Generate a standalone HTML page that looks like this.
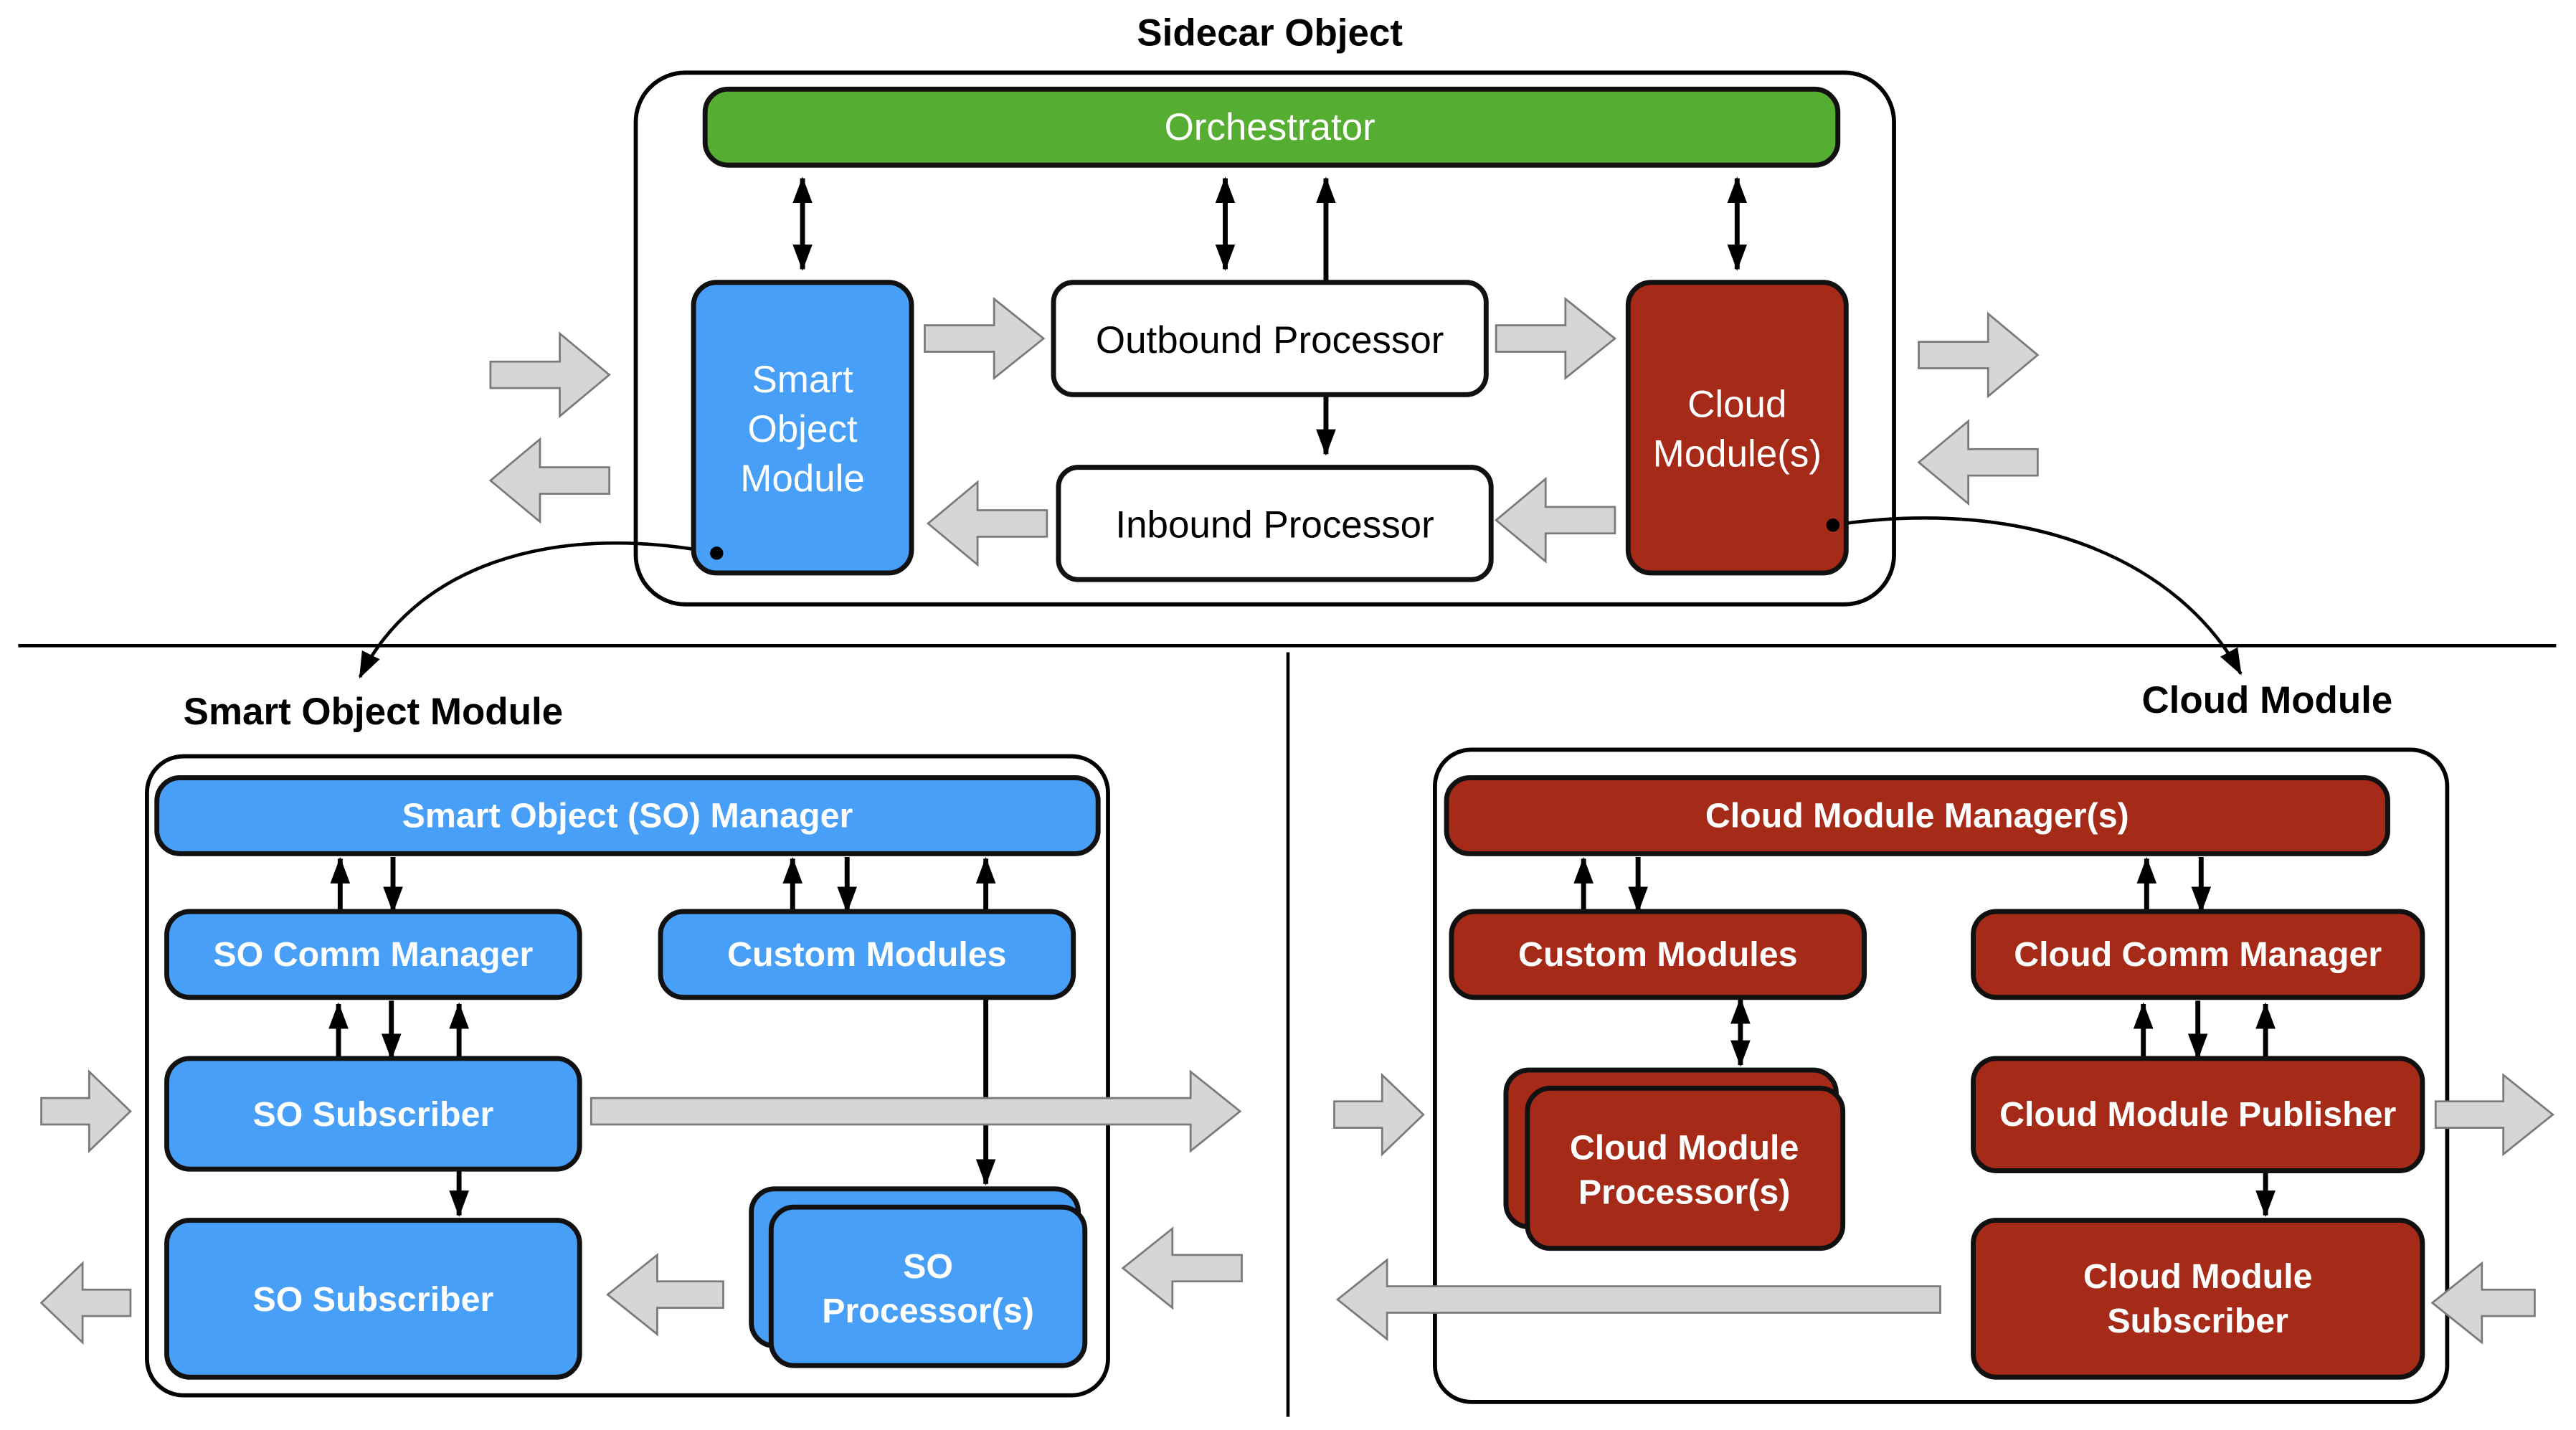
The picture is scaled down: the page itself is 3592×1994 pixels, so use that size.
<!DOCTYPE html>
<html><head><meta charset="utf-8"><style>html,body{margin:0;padding:0;background:#fff}svg{display:block}</style></head>
<body>
<svg width="3592" height="1994" viewBox="0 0 1560 866" xmlns="http://www.w3.org/2000/svg" font-family="Liberation Sans, sans-serif">
<defs>
<marker id="a" viewBox="0 0 16 12" refX="15" refY="6" markerWidth="16" markerHeight="12" markerUnits="userSpaceOnUse" orient="auto-start-reverse"><path d="M0,0 L16,6 L0,12 z" fill="#000"/></marker>
</defs>
<rect width="1560" height="866" fill="#fff"/>
<g fill="#000" font-weight="bold" font-size="23" text-anchor="middle" dominant-baseline="central">
<text x="769" y="20">Sidecar Object</text>
<text x="226" y="431">Smart Object Module</text>
<text x="1373" y="424">Cloud Module</text>
</g>
<line x1="11" y1="391" x2="1548" y2="391" stroke="#000" stroke-width="2"/>
<line x1="780" y1="395" x2="780" y2="858" stroke="#000" stroke-width="2"/>
<g fill="none" stroke="#000" stroke-width="2.5">
<rect x="385" y="44" width="762" height="322" rx="30"/>
<rect x="89" y="458" width="582" height="387" rx="22"/>
<rect x="869" y="454" width="613" height="395" rx="22"/>
</g>
<g stroke="#000" stroke-width="3" fill="none">
<line x1="486" y1="108" x2="486" y2="163" marker-start="url(#a)" marker-end="url(#a)"/>
<line x1="742" y1="108" x2="742" y2="163" marker-start="url(#a)" marker-end="url(#a)"/>
<line x1="1052" y1="108" x2="1052" y2="163" marker-start="url(#a)" marker-end="url(#a)"/>
<line x1="803" y1="171" x2="803" y2="108" marker-end="url(#a)"/>
<line x1="803" y1="239" x2="803" y2="275" marker-end="url(#a)"/>
<line x1="206" y1="552" x2="206" y2="520" marker-end="url(#a)"/>
<line x1="238" y1="519" x2="238" y2="552" marker-end="url(#a)"/>
<line x1="480" y1="552" x2="480" y2="520" marker-end="url(#a)"/>
<line x1="513" y1="519" x2="513" y2="552" marker-end="url(#a)"/>
<line x1="597" y1="552" x2="597" y2="520" marker-end="url(#a)"/>
<line x1="205" y1="641" x2="205" y2="608" marker-end="url(#a)"/>
<line x1="237" y1="606" x2="237" y2="641" marker-end="url(#a)"/>
<line x1="278" y1="641" x2="278" y2="608" marker-end="url(#a)"/>
<line x1="278" y1="708" x2="278" y2="736" marker-end="url(#a)"/>
<line x1="597" y1="604" x2="597" y2="717" marker-end="url(#a)"/>
<line x1="959" y1="552" x2="959" y2="520" marker-end="url(#a)"/>
<line x1="992" y1="519" x2="992" y2="552" marker-end="url(#a)"/>
<line x1="1300" y1="552" x2="1300" y2="520" marker-end="url(#a)"/>
<line x1="1333" y1="519" x2="1333" y2="552" marker-end="url(#a)"/>
<line x1="1054" y1="605" x2="1054" y2="645" marker-start="url(#a)" marker-end="url(#a)"/>
<line x1="1298" y1="641" x2="1298" y2="608" marker-end="url(#a)"/>
<line x1="1331" y1="606" x2="1331" y2="641" marker-end="url(#a)"/>
<line x1="1372" y1="641" x2="1372" y2="608" marker-end="url(#a)"/>
<line x1="1372" y1="709" x2="1372" y2="736" marker-end="url(#a)"/>
<path d="M434,335 C330,315 250,345 218,410" stroke-width="2" marker-end="url(#a)"/>
<path d="M1110,318 C1230,300 1320,340 1357,408" stroke-width="2" marker-end="url(#a)"/>
</g>
<g fill="#d6d6d6" stroke="#7a7a7a" stroke-width="1.2">
<polygon points="560,197 602,197 602,181 632,205 602,229 602,213 560,213"/>
<polygon points="906,197 948,197 948,181 978,205 948,229 948,213 906,213"/>
<polygon points="297,219 339,219 339,202 369,227 339,252 339,235 297,235"/>
<polygon points="1162,207 1204,207 1204,190 1234,215 1204,240 1204,223 1162,223"/>
<polygon points="358,665 721,665 721,649 751,673 721,697 721,681 358,681"/>
<polygon points="25,665 54,665 54,649 79,673 54,697 54,681 25,681"/>
<polygon points="808,667 837,667 837,651 862,675 837,699 837,683 808,683"/>
<polygon points="1475,667 1516,667 1516,651 1546,675 1516,699 1516,683 1475,683"/>
<polygon points="562,317 592,292 592,309 634,309 634,325 592,325 592,342"/>
<polygon points="906,315 936,290 936,307 978,307 978,323 936,323 936,340"/>
<polygon points="297,291 327,266 327,283 369,283 369,299 327,299 327,316"/>
<polygon points="1162,280 1192,255 1192,272 1234,272 1234,288 1192,288 1192,305"/>
<polygon points="368,784 398,760 398,776 438,776 438,792 398,792 398,808"/>
<polygon points="25,789 50,765 50,781 79,781 79,797 50,797 50,813"/>
<polygon points="680,768 710,744 710,760 752,760 752,776 710,776 710,792"/>
<polygon points="810,787 840,763 840,779 1175,779 1175,795 840,795 840,811"/>
<polygon points="1473,789 1503,765 1503,781 1535,781 1535,797 1503,797 1503,813"/>
</g>
<g stroke="#111" stroke-width="3">
<rect x="427" y="54" width="686" height="46" rx="14" fill="#55ad32"/>
<rect x="420" y="171" width="132" height="176" rx="14" fill="#479ff8"/>
<rect x="638" y="171" width="262" height="68" rx="12" fill="#fff"/>
<rect x="641" y="283" width="262" height="68" rx="12" fill="#fff"/>
<rect x="986" y="171" width="132" height="176" rx="14" fill="#a52a17"/>
</g>
<circle cx="434" cy="335" r="4" fill="#000"/>
<circle cx="1110" cy="318" r="4" fill="#000"/>
<g font-size="23" text-anchor="middle" dominant-baseline="central">
<text x="769" y="77" fill="#fff">Orchestrator</text>
<text x="486" y="230" fill="#fff">Smart</text>
<text x="486" y="260" fill="#fff">Object</text>
<text x="486" y="290" fill="#fff">Module</text>
<text x="769" y="206" fill="#000">Outbound Processor</text>
<text x="772" y="318" fill="#000">Inbound Processor</text>
<text x="1052" y="245" fill="#fff">Cloud</text>
<text x="1052" y="275" fill="#fff">Module(s)</text>
</g>
<g stroke="#111" stroke-width="3" fill="#479ff8">
<rect x="95" y="471" width="570" height="46" rx="14"/>
<rect x="101" y="552" width="250" height="52" rx="14"/>
<rect x="400" y="552" width="250" height="52" rx="14"/>
<rect x="101" y="641" width="250" height="67" rx="14"/>
<rect x="101" y="739" width="250" height="95" rx="14"/>
<rect x="455" y="720" width="198" height="95" rx="14"/>
<rect x="467" y="731" width="190" height="96" rx="14"/>
</g>
<g stroke="#111" stroke-width="3" fill="#a52a17">
<rect x="876" y="471" width="570" height="46" rx="14"/>
<rect x="879" y="552" width="250" height="52" rx="14"/>
<rect x="1195" y="552" width="272" height="52" rx="14"/>
<rect x="912" y="648" width="200" height="95" rx="14"/>
<rect x="925" y="659" width="191" height="97" rx="14"/>
<rect x="1195" y="641" width="272" height="68" rx="14"/>
<rect x="1195" y="739" width="272" height="95" rx="14"/>
</g>
<g font-size="21" font-weight="bold" fill="#fff" text-anchor="middle" dominant-baseline="central">
<text x="380" y="494">Smart Object (SO) Manager</text>
<text x="226" y="578">SO Comm Manager</text>
<text x="525" y="578">Custom Modules</text>
<text x="226" y="675">SO Subscriber</text>
<text x="226" y="787">SO Subscriber</text>
<text x="562" y="767">SO</text>
<text x="562" y="794">Processor(s)</text>
<text x="1161" y="494">Cloud Module Manager(s)</text>
<text x="1004" y="578">Custom Modules</text>
<text x="1331" y="578">Cloud Comm Manager</text>
<text x="1020" y="695">Cloud Module</text>
<text x="1020" y="722">Processor(s)</text>
<text x="1331" y="675">Cloud Module Publisher</text>
<text x="1331" y="773">Cloud Module</text>
<text x="1331" y="800">Subscriber</text>
</g>
</svg>
</body></html>
